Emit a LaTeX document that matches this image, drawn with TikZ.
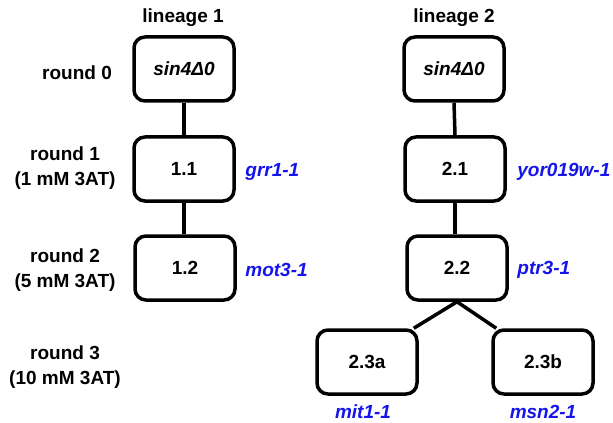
\documentclass[tikz,border=0pt]{standalone}
\usepackage{fontspec}
\setmainfont{Liberation Sans}
\usetikzlibrary{calc}
\definecolor{mutblue}{RGB}{20,20,235}
\begin{document}
\begin{tikzpicture}[x=0.5pt,y=-0.5pt,
  every node/.style={font=\fontsize{9.5pt}{12.6pt}\selectfont\bfseries},
  clone/.style={draw,line width=1.75pt,rounded corners=5.5pt,minimum width=50pt,minimum height=32pt,inner sep=0pt},
  link/.style={line width=1.75pt},
  mut/.style={text=mutblue,inner xsep=0pt,font=\fontsize{9.5pt}{12.6pt}\selectfont\bfseries\itshape},
  rnd/.style={align=center}]
\useasboundingbox (0,0) rectangle (613,422);

% column headings
\node (h1) at (183,18) {lineage 1};
\node (h2) at (454,18) {lineage 2};

% round labels
\node[rnd] (r0) at (77,73) {round 0};
\node[rnd] (r1) at (65,168) {round 1\\(1 mM 3AT)};
\node[rnd] (r2) at (65,270) {round 2\\(5 mM 3AT)};
\node[rnd] (r3) at (65,367) {round 3\\(10 mM 3AT)};

% lineage 1
\node[clone] (a0) at (184,69) {\itshape sin4Δ0};
\node[clone] (a1) at (184,169) {1.1};
\node[clone] (a2) at (185,268) {1.2};

% lineage 2
\node[clone] (b0) at (454,69) {\itshape sin4Δ0};
\node[clone] (b1) at (455,169) {2.1};
\node[clone] (b2) at (457,268) {2.2};
\node[clone] (b3a) at (367,362) {2.3a};
\node[clone] (b3b) at (543,362) {2.3b};

% connectors
\draw[link] (a0.south) -- (a1.north);
\draw[link] (a1.south) -- (a1.south |- a2.north);
\draw[link] (b0.south) -- (b1.north);
\draw[link] (b1.south) -- (b1.south |- b2.north);
\coordinate (ja) at ($(b3a.north east)+(-5,0)$);
\coordinate (jb) at ($(b3b.north west)+(5,0)$);
\draw[link,line join=round] (ja) -- (b2.south) -- (jb);

% mutations
\node[mut,anchor=west] (m1) at (245,172) {grr1-1};
\node[mut,anchor=west] (m2) at (245,270) {mot3-1};
\node[mut,anchor=west] (m3) at (517,172) {yor019w-1};
\node[mut,anchor=west] (m4) at (517,270) {ptr3-1};
\node[mut] (m5) at (363,412) {mit1-1};
\node[mut] (m6) at (543,412) {msn2-1};
\end{tikzpicture}
\end{document}
